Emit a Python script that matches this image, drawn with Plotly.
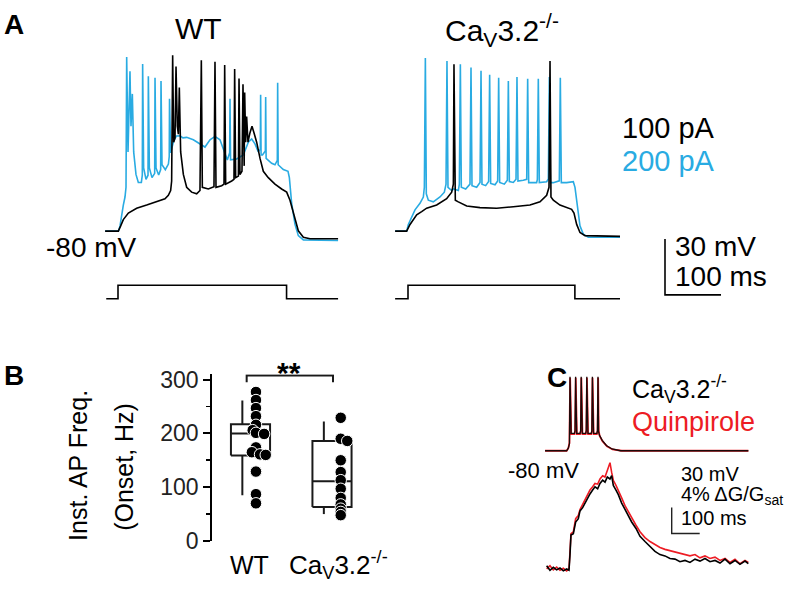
import plotly.graph_objects as go

# ---------------- DATA ----------------
# Panel A: membrane potential traces (time in ms from step onset, Vm in mV)
wt_100pA = [(-23,-80),(0.6,-80),(4.8,-77.2),(9.5,-73.8),(18.5,-70.3),(33.3,-67.7),(51.2,-66),(69.1,-64.3),
            (83.9,-62.6),(89.9,-60.8),(94,-58.2),(95.8,-53.1),(97.6,14.3),(99.4,-32.3),(101.8,-30),(103.6,8.3),
            (105.9,-23.7),(107.8,-28),(109.5,-3),(111.9,-37.5),(116.7,-49.6),(122.6,-56.5),(131.5,-59.1),
            (140.5,-60),(146.4,-58.2),(148.8,11.7),(150.6,-56.5),(161.3,-57.4),(171.4,-56.2),(173.2,10.8),
            (175,-56.5),(185.1,-55.6),(189.3,-54.8),(190.5,9.1),(192.3,-54.8),(203,-53.1),(207.1,-52.2),
            (208.3,7),(210.1,-51.3),(215,-50.5),(216.1,1.9),(217.8,-49.6),(221.4,-47.9),(223.2,-1.2),
            (224.4,-44.4),(225.3,-45),(226.2,-5.6),(228,-32.3),(229.7,-18.5),(232.1,-32.3),(235.7,-27.2),
            (239.3,-23.7),(242.8,-27.2),(247.6,-32.3),(253.6,-41),(259.5,-47.9),(268.4,-51.3),(280.3,-54.8),
            (292.2,-57.4),(301.2,-59.1),(307.1,-63.4),(314.3,-72.1),(322,-79.8),(331,-83.3),(342.8,-84.1),(393,-84.1)]
wt_200pA = [(-23,-80),(0.6,-80),(3.6,-77.2),(6.6,-70.3),(9.5,-66),(12.5,-61.7),(14.3,-56.5),(15.5,13.4),
            (17.9,-37.5),(21.4,5.7),(23.2,-23.7),(25.6,-6.4),(28,-37.5),(32.1,-49.6),(36.3,-53.9),(41.7,-53.9),
            (43.4,-50),(44,9.6),(45.8,-46.1),(50,-52.2),(53.6,-50),(54.2,3.1),(56,-46.1),(60.7,-51.3),(65.5,-49),
            (66.1,2.2),(67.9,-46.1),(72.6,-49.9),(76.2,-47),(76.8,0.5),(78.6,-44.4),(84.5,-47),(90,-44),
            (91.5,-40),(92,-9),(94,-38),(98.8,-32.3),(104,-29),(110.7,-28.9),(116,-30),(122.6,-29.7),
            (134.5,-31),(146.4,-33.2),(155.3,-34.9),(164.3,-31),(173.2,-29.2),(182.1,-31),(191.1,-39.2),
            (195.2,-41.8),(199.4,-38),(200,-9),(201,-41.8),(211.9,-41.3),(223.8,-39.2),(232.7,-32.3),
            (238.7,-30.6),(244.6,-33.2),(250.6,-37.5),(254.1,-36),(254.7,-6.8),(255.5,-39.2),(258,-39.2),
            (263.1,-37),(263.7,-8.1),(264.5,-41),(274.4,-43.6),(280.3,-44.4),(284.5,-42),(285.1,-0.4),
            (286,-44.4),(295.2,-47),(303.6,-47.9),(306,-51.3),(310.1,-65.1),(316.1,-76.4),(322,-82.4),
            (331,-84.7),(393,-85)]
ko_100pA = [(-23,-80),(-2.4,-80),(3.6,-76.4),(9.5,-73.8),(15.5,-71.2),(24.4,-69.5),(33.3,-67.7),(51.2,-66),
            (69,-62.6),(78,-59.1),(81,-54.8),(82.1,9.5),(83.5,-60),(84.5,-63.4),(89.9,-64.3),(104.8,-66.5),
            (128.6,-67.4),(158.3,-67.7),(188.1,-66.9),(217.8,-66),(235.7,-64.3),(247.6,-60.8),(251.8,-56.5),
            (253.6,11.2),(255.3,-61.7),(259.5,-63.4),(271.4,-66),(292.2,-68.3),(296.4,-70.3),(301.2,-76.4),
            (307.1,-80.7),(316.1,-82.4),(378.6,-82.8)]
ko_200pA = [(-23,-80),(-2.4,-80),(0.6,-76.4),(6.5,-72.1),(12.5,-68.6),(21.4,-65.1),(27.4,-61.7),(29.2,-56.5),
            (31,12.9),(32.7,-60),(36.3,-63.4),(45.2,-64.3),(57.1,-61.7),(64.9,-59.1),(67.9,-54.8),(69.6,11.2),
            (71.4,-56.5),(78,-58.2),(81.5,-57.4),(89.9,-58.2),(91.7,-54.8),(93.5,9.5),(95.2,-56.5),(103,-57.4),
            (110.7,-54.8),(112.5,7.7),(114.3,-55.6),(122.6,-56.5),(128.6,-53.9),(130.4,6),(132.1,-54.8),
            (138.7,-55.6),(144,-53.4),(145.8,3.9),(147.6,-54.4),(155.4,-55.1),(160.1,-53.1),(161.9,2.2),
            (163.7,-53.9),(172,-54.8),(177.4,-52.7),(179.2,0.5),(181,-53.4),(188.1,-53.9),(192.9,-52.2),
            (194.6,2.6),(196.4,-53.1),(205.9,-52.7),(212,-52.2),(213.7,1.7),(215.5,-54),(229.7,-54),
            (231,-52.2),(232.7,1.7),(234.5,-54),(247.6,-53.5),(250.6,-52),(252.4,2.6),(254.2,-54),(259.5,-54),
            (270.2,-53),(272,2.2),(273.8,-54),(283.3,-54),(295.2,-53.5),(298.2,-56.5),(303,-68.6),(307.1,-77.2),
            (313,-81.6),(322,-83.3),(378.6,-83.3)]
# current step protocol (ms, relative level)
step_wt = [(-21,0),(0,0),(0,1),(301,1),(301,0),(393,0)]
step_ko = [(-23,0),(0,0),(0,1),(298,1),(298,0),(378.6,0)]
scale_A_mV = 30
scale_A_ms = 100

# Panel B: instantaneous AP frequency at onset (Hz)
groups = ["WT", "Ca<sub>V</sub>3.2<sup>-/-</sup>"]
box_q1 = [159, 63]
box_median = [200, 111]
box_q3 = [217, 186]
whisker_lo = [85, 50]
whisker_hi = [261, 222]
wt_freq = [277, 262, 247, 232, 216, 206, 201, 199, 174, 165, 161, 160, 129, 87, 70]
ko_freq = [229, 190, 186, 150, 128, 113, 97, 80, 68, 60, 54, 48]
b_ticks = [0, 100, 200, 300]
b_minor = [50, 150, 250]

# Panel C: burst of APs (mV) and GCaMP signal (% dG/Gsat), time in ms
c_vm_ctrl = [(-89,-80),(-12,-80),(-6,-77),(-2,-72),(0,5),(2,-58),(4,-60),(16,-60),(18,-57),(20,5),(22,-58),
             (24,-60),(36,-60),(38,-57),(40,5),(42,-58),(44,-60),(56,-60),(58,-57),(60,5),(62,-58),(64,-60),
             (76,-60),(78,-57),(80,5),(82,-58),(84,-60),(96,-60),(98,-57),(100,5),(102,-58),(105,-62),
             (115,-68),(130,-74),(150,-78),(180,-80),(637,-80)]
c_vm_quin = [(-89,-80),(-12,-80),(-6,-77),(-2,-71),(0.5,4),(2.5,-57),(4.5,-61),(16,-61),(18.5,-57),(20.5,4),
             (22.5,-57),(24.5,-61),(36,-61),(38.5,-57),(40.5,4),(42.5,-57),(44.5,-61),(56,-61),(58.5,-57),
             (60.5,4),(62.5,-57),(64.5,-61),(76,-61),(78.5,-57),(80.5,4),(82.5,-57),(84.5,-61),(96,-61),
             (98.5,-57),(100.5,4),(102.5,-57),(106,-63),(116,-69),(132,-75),(152,-78.5),(185,-80),(637,-80)]
c_f_ctrl = [(-83.4,0.7),(-71.5,0),(-59.6,0.45),(-47.7,0.05),(-35.8,0.35),(-23.9,-0.1),(-12,0.2),(-3.6,0),
            (0,2.4),(3.5,5.4),(11.9,5.6),(20.2,7.4),(29.7,7.9),(35.7,9.1),(45.2,9.6),(53.5,10.3),(61.9,11.1),
            (71.4,11.7),(80.9,12.3),(89.2,12.8),(98.8,12.5),(107.1,13.3),(116.6,13.8),(125,13.5),(133.3,14.3),
            (142.8,14),(148.8,14.5),(154.7,13),(164.2,12.3),(172.6,11.6),(184.5,10.3),(196.4,9.3),(208.3,8.4),
            (220.2,7.4),(235.7,6.4),(250,5.2),(267.8,4.4),(285.7,3.7),(303.5,2.9),(321.4,2.4),(339.2,2.2),
            (357.1,1.8),(375,1.7),(392.8,1.3),(410.7,1.5),(428.5,1.2),(446.4,1.7),(464.3,1.4),(482.1,1.8),
            (500,1.3),(517.9,1.5),(535.7,1.1),(553.6,1.7),(571.4,1.0),(589.3,1.5),(607.1,0.9),(625,1.4),(636.9,1.0)]
c_f_quin = [(-83.4,0.2),(-71.5,0.7),(-59.6,0.05),(-47.7,0.5),(-35.8,0),(-23.9,0.3),(-12,-0.1),(-3.6,0.2),
            (0,2.9),(3.5,5.6),(11.9,5.9),(20.2,7.9),(29.7,8.4),(35.7,9.3),(45.2,10.1),(53.5,10.8),(61.9,11.6),
            (71.4,12.3),(80.9,12.8),(89.2,13.3),(98.8,13.2),(107.1,14),(116.6,14.5),(125,14.3),(133.3,15.3),
            (142.8,16.5),(148.8,15),(154.7,13.8),(164.2,13),(172.6,12.3),(184.5,11.1),(196.4,9.9),(208.3,9),
            (220.2,7.9),(235.7,6.9),(250,5.9),(267.8,5),(285.7,4.4),(303.5,3.9),(321.4,3.5),(339.2,3.2),
            (357.1,3),(375,2.8),(392.8,2.7),(410.7,2.5),(428.5,2.2),(446.4,2.4),(464.3,1.9),(482.1,2.2),
            (500,1.8),(517.9,2),(535.7,1.5),(553.6,1.8),(571.4,1.2),(589.3,1.7),(607.1,1),(625,1.5),(636.9,1.2)]
scale_C_mV = 30
scale_C_pct = 4
scale_C_ms = 100

# ---------------- LAYOUT HELPERS ----------------
W, H = 800, 590
FONT = "Liberation Sans, Arial, sans-serif"
BLACK = "#000000"
BLUE = "#29ABE2"
RED = "#ED1C24"

def xax(p0, p1, ref_px, ref_val, ppu):
    p0, p1 = max(0, p0), min(W, p1)
    return dict(domain=[p0 / W, p1 / W],
                range=[ref_val + (p0 - ref_px) / ppu, ref_val + (p1 - ref_px) / ppu],
                visible=False, fixedrange=True)

def yax(top, bot, ref_px, ref_val, ppu):
    top, bot = max(0, top), min(H, bot)
    return dict(domain=[1 - bot / H, 1 - top / H],
                range=[ref_val - (bot - ref_px) / ppu, ref_val + (ref_px - top) / ppu],
                visible=False, fixedrange=True)

def unz(pairs):
    return [p[0] for p in pairs], [p[1] for p in pairs]

fig = go.Figure()

def line(pairs, xa, ya, color, width=1.6):
    x, y = unz(pairs)
    fig.add_trace(go.Scatter(x=x, y=y, xaxis=xa, yaxis=ya, mode="lines",
                             line=dict(color=color, width=width), hoverinfo="skip", showlegend=False))

# Panel A axes: 0.56 px/ms, 1.93 px/mV ; -80 mV at y=232
PX_MS_A, PX_MV_A = 0.56, 1.93
layout = dict(
    xaxis=xax(100, 345, 118, 0, PX_MS_A),
    yaxis=yax(35, 310, 232, -80, PX_MV_A),
    xaxis2=xax(390, 730, 408, 0, PX_MS_A),
    yaxis2=yax(35, 310, 232, -80, PX_MV_A),
    xaxis3=xax(100, 345, 118, 0, PX_MS_A),
    yaxis3=yax(280, 310, 302, 0, 14),
    xaxis4=xax(390, 730, 408, 0, PX_MS_A),
    yaxis4=yax(280, 310, 302, 0, 14),
)
layout["xaxis"]["anchor"] = "y"; layout["yaxis"]["anchor"] = "x"
layout["xaxis2"]["anchor"] = "y2"; layout["yaxis2"]["anchor"] = "x2"
layout["xaxis3"]["anchor"] = "y3"; layout["yaxis3"]["anchor"] = "x3"
layout["xaxis4"]["anchor"] = "y4"; layout["yaxis4"]["anchor"] = "x4"

line(wt_200pA, "x", "y", BLUE)
line(wt_100pA, "x", "y", BLACK)
line(ko_200pA, "x2", "y2", BLUE)
line(ko_100pA, "x2", "y2", BLACK)
line(step_wt, "x3", "y3", BLACK, 1.6)
line(step_ko, "x4", "y4", BLACK, 1.6)

# scale bar A (in KO axes units)
sbx = (665 - 408) / PX_MS_A
sby = -80 - (298 - 232) / PX_MV_A
fig.add_trace(go.Scatter(x=[sbx, sbx, sbx + scale_A_ms], y=[sby + scale_A_mV, sby, sby],
                         xaxis="x2", yaxis="y2", mode="lines", line=dict(color=BLACK, width=1.6),
                         hoverinfo="skip", showlegend=False))

# Panel B axes: x=1 at 250.5 px, 81.5 px/unit ; y: 0 at 552.7, 0.5567 px/Hz
layout["xaxis5"] = xax(212, 420, 250.5, 1, 81.5)
layout["xaxis5"]["anchor"] = "y5"
yb = dict(domain=[1 - 552.7 / H, 1 - (552.7 - 310 * 0.5567) / H], range=[0, 310],
          visible=True, anchor="x5", showline=True, linecolor=BLACK, linewidth=1.8,
          ticks="outside", ticklen=7, tickwidth=1.8, tickcolor=BLACK,
          tickvals=b_ticks, ticktext=[str(v) for v in b_ticks],
          tickfont=dict(family=FONT, size=23, color="#222"),
          minor=dict(ticks="outside", ticklen=4, tickwidth=1.8, tickcolor=BLACK, tickvals=b_minor),
          showgrid=False, zeroline=False, fixedrange=True)
layout["yaxis5"] = yb

half_w = 0.24
whisk_dx = -0.1
for i in range(2):
    pos = i + 1
    x0, x1 = pos - half_w, pos + half_w
    fig.add_trace(go.Scatter(x=[x0, x1, x1, x0, x0, None, x0, x1, None, pos + whisk_dx, pos + whisk_dx, None,
                                pos + whisk_dx, pos + whisk_dx],
                             y=[box_q1[i], box_q1[i], box_q3[i], box_q3[i], box_q1[i], None,
                                box_median[i], box_median[i], None, box_q3[i], whisker_hi[i], None,
                                box_q1[i], whisker_lo[i]],
                             xaxis="x5", yaxis="y5", mode="lines", line=dict(color="#1a1a1a", width=2),
                             hoverinfo="skip", showlegend=False))

wt_jit = [0, 0, 0, 0, 0, -0.04, 0, 0.1, 0, -0.05, 0.05, 0.12, 0, 0, 0]
ko_jit = [0, 0, 0.08, 0, 0, 0, 0, 0, 0, 0, 0, 0]
fig.add_trace(go.Scatter(x=[1.067 + j for j in wt_jit], y=wt_freq, xaxis="x5", yaxis="y5", mode="markers",
                         marker=dict(color=BLACK, size=11.5, line=dict(color="white", width=1)),
                         hoverinfo="skip", showlegend=False))
fig.add_trace(go.Scatter(x=[2.107 + j for j in ko_jit], y=ko_freq, xaxis="x5", yaxis="y5", mode="markers",
                         marker=dict(color=BLACK, size=11.5, line=dict(color="white", width=1)),
                         hoverinfo="skip", showlegend=False))
# significance bracket
fig.add_trace(go.Scatter(x=[0.953, 0.953, 2.012, 2.012], y=[295, 307.5, 307.5, 295], xaxis="x5", yaxis="y5",
                         mode="lines", line=dict(color="#1a1a1a", width=2), hoverinfo="skip", showlegend=False))

# Panel C axes: t=0 at 570 px, 0.28 px/ms ; Vm: -80 at 459.3, 0.9 px/mV ; F: 0 at 583, 6.75 px/%
PX_MS_C = 0.28
layout["xaxis6"] = xax(540, 770, 570, 0, PX_MS_C); layout["xaxis6"]["anchor"] = "y6"
layout["yaxis6"] = yax(370, 470, 459.3, -80, 0.9); layout["yaxis6"]["anchor"] = "x6"
layout["xaxis7"] = xax(540, 770, 570, 0, PX_MS_C); layout["xaxis7"]["anchor"] = "y7"
layout["yaxis7"] = yax(460, 590, 583, 0, 6.75); layout["yaxis7"]["anchor"] = "x7"

line(c_vm_quin, "x6", "y6", RED, 1.8)
line(c_vm_ctrl, "x6", "y6", "#1a0a0a", 1.3)
line(c_f_quin, "x7", "y7", RED, 1.6)
line(c_f_ctrl, "x7", "y7", BLACK, 1.6)
csx = (671.7 - 570) / PX_MS_C
csy = (583 - 545) / 6.75
fig.add_trace(go.Scatter(x=[csx, csx, csx + scale_C_ms], y=[csy + scale_C_pct, csy, csy],
                         xaxis="x7", yaxis="y7", mode="lines", line=dict(color="#222", width=1.4),
                         hoverinfo="skip", showlegend=False))

# ---------------- TEXT ----------------
ann = []
def text(s, x, y, size, color=BLACK, xanchor="left", yanchor="middle", angle=0):
    ann.append(dict(text=s, x=x / W, y=1 - y / H, xref="paper", yref="paper", showarrow=False,
                    xanchor=xanchor, yanchor=yanchor, textangle=angle,
                    font=dict(family=FONT, size=size, color=color)))

text("<b>A</b>", 2, 18, 28)
text("WT", 198, 22, 30, xanchor="center")
text("Ca<sub>V</sub>3.2<sup>-/-</sup>", 443, 24, 30)
text("100 pA", 620, 125, 29)
text("200 pA", 620, 159, 29, BLUE)
text("-80 mV", 139, 249, 28, xanchor="right")
text("30 mV", 673, 248, 28)
text("100 ms", 673, 279, 28)

text("<b>B</b>", 2, 381, 28)
text("Inst. AP Freq.", 78, 475, 25, xanchor="center", angle=-90)
text("(Onset, Hz)", 124, 476, 25, xanchor="center", angle=-90)
text("<b>**</b>", 289, 378, 30, xanchor="center")
text(groups[0], 249.5, 578, 25, xanchor="center")
text(groups[1], 287, 578, 26)

text("<b>C</b>", 545, 383, 28)
text("Ca<sub>V</sub>3.2<sup>-/-</sup>", 630, 395, 25)
text("Quinpirole", 630, 430, 27, RED)
text("-80 mV", 581, 480, 22, xanchor="right")
text("30 mV", 679, 483, 20)
text("4% \u0394G/G<sub>sat</sub>", 679, 506, 20)
text("100 ms", 679, 529, 20)

layout.update(dict(width=W, height=H, margin=dict(l=0, r=0, t=0, b=0),
                   paper_bgcolor="white", plot_bgcolor="rgba(0,0,0,0)",
                   annotations=ann, showlegend=False, font=dict(family=FONT)))
fig.update_layout(**layout)
fig.write_html("out.html", config={"displayModeBar": False, "staticPlot": True},
               post_script="document.body.style.margin='0';document.body.style.overflow='hidden';")
